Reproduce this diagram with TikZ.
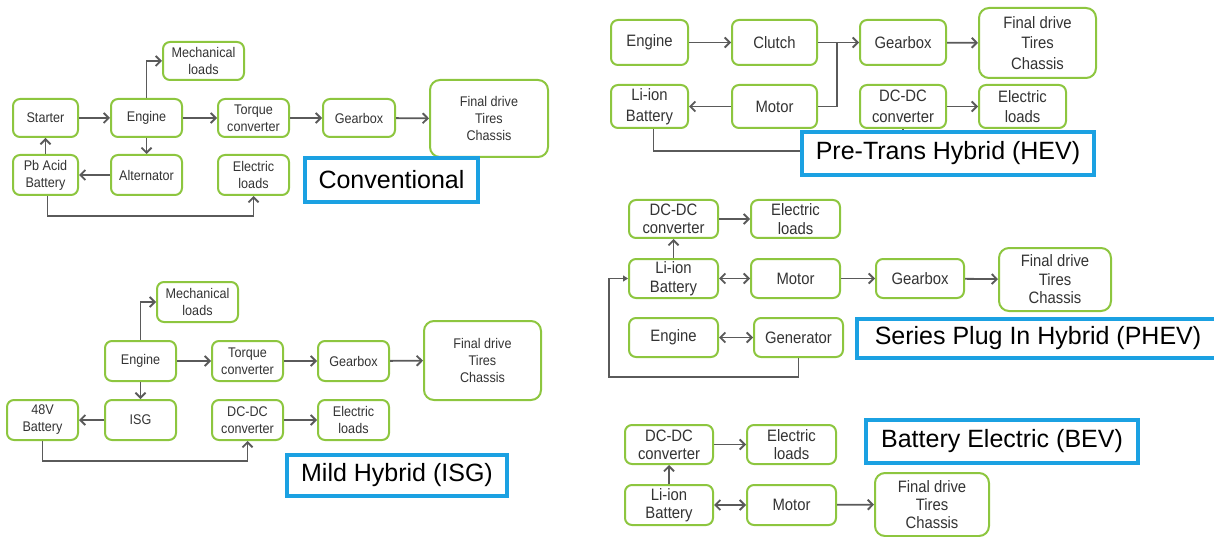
\documentclass[tikz,border=0pt]{standalone}
\usepackage{fontspec}
\setmainfont{Liberation Sans}[FakeStretch=0.9]
\newfontfamily\tagfont{Liberation Sans}
\usetikzlibrary{arrows.meta}
\definecolor{boxgreen}{HTML}{8DC63F}
\definecolor{tagblue}{HTML}{1BA1E2}
\definecolor{linegray}{HTML}{5A5A5A}
\definecolor{txtgray}{HTML}{333333}
\tikzset{
  blk/.style={draw=boxgreen, line width=2pt, rounded corners=7pt, fill=white, align=center, inner sep=0pt, text=txtgray},
  sz/.style n args={2}{minimum width=#1, minimum height=#2},
  tag/.style={draw=tagblue, line width=3.4pt, fill=white, inner sep=0pt, font=\tagfont\fontsize{25}{28}\selectfont},
  link/.style={draw=linegray, line width=1.8pt},
  arr/.style={link, -{Straight Barb[length=5pt,width=10pt]}},
  dbl/.style={link, {Straight Barb[length=5pt,width=10pt]}-{Straight Barb[length=5pt,width=10pt]}},
}
\begin{document}
\begin{tikzpicture}[x=1pt,y=-1pt]
\useasboundingbox (0,0) rectangle (1214,537);

% conventional
\begin{scope}[font=\fontsize{14}{17}\selectfont]
\node[blk, sz={81}{38}] (c-mech) at (203.5,61) {Mechanical\\loads};
\node[blk, sz={65}{38}] (c-start) at (45.5,118) {Starter};
\node[blk, sz={71}{38}] (c-eng) at (146.5,118) {Engine};
\node[blk, sz={71}{38}] (c-tc) at (253.5,118) {Torque\\converter};
\node[blk, sz={72}{38}] (c-gear) at (359,118) {Gearbox};
\node[blk, sz={118}{77}, rounded corners=10pt] (c-final) at (489,118.5) {Final drive\\Tires\\Chassis};
\node[blk, sz={65}{40}] (c-bat) at (45.5,175) {Pb Acid\\Battery};
\node[blk, sz={71}{40}] (c-alt) at (146.5,175) {Alternator};
\node[blk, sz={71}{40}] (c-eload) at (253.5,175) {Electric\\loads};
\end{scope}

\draw[arr] (c-start) -- (c-eng);
\draw[arr] (c-eng) -- (c-tc);
\draw[arr] (c-tc) -- (c-gear);
\draw[arr] (c-gear) -- (c-final);
\draw[arr] (c-eng.north) |- (c-mech.west);
\draw[arr] (c-eng) -- (c-alt);
\draw[arr] (c-alt) -- (c-bat);
\draw[arr] (c-bat) -- (c-start);
\draw[arr] ([xshift=2]c-bat.south) -- ++(0,20) -| (c-eload.south);

% mild hybrid
\begin{scope}[font=\fontsize{14}{17}\selectfont]
\node[blk, sz={81}{40}] (m-mech) at (197.5,302) {Mechanical\\loads};
\node[blk, sz={71}{40}] (m-eng) at (140.5,361) {Engine};
\node[blk, sz={71}{40}] (m-tc) at (247.5,361) {Torque\\converter};
\node[blk, sz={71}{40}] (m-gear) at (353.5,361) {Gearbox};
\node[blk, sz={117}{79}, rounded corners=10pt] (m-final) at (482.5,360.5) {Final drive\\Tires\\Chassis};
\node[blk, sz={71}{40}] (m-bat) at (42.5,420) {48V\\Battery};
\node[blk, sz={71}{40}] (m-isg) at (140.5,420) {ISG};
\node[blk, sz={71}{40}] (m-dcdc) at (247.5,420) {DC-DC\\converter};
\node[blk, sz={71}{40}] (m-eload) at (353.5,420) {Electric\\loads};
\end{scope}

\draw[arr] (m-eng) -- (m-tc);
\draw[arr] (m-tc) -- (m-gear);
\draw[arr] (m-gear) -- (m-final);
\draw[arr] (m-eng.north) |- (m-mech.west);
\draw[arr] (m-eng) -- (m-isg);
\draw[arr] (m-isg) -- (m-bat);
\draw[arr] (m-bat.south) -- ++(0,20) -| (m-dcdc.south);
\draw[arr] (m-dcdc) -- (m-eload);

% pre-trans hybrid
\begin{scope}[font=\fontsize{16.5}{20.5}\selectfont]
\node[blk, sz={77}{45}] (p-eng) at (649.5,42.5) {Engine};
\node[blk, sz={85}{45}] (p-clutch) at (774.5,42.5) {Clutch};
\node[blk, sz={86}{45}] (p-gear) at (903,42.5) {Gearbox};
\node[blk, sz={117}{70}, rounded corners=10pt] (p-final) at (1037.5,43) {Final drive\\Tires\\Chassis};
\node[blk, sz={77}{43}] (p-bat) at (649.5,106.5) {Li-ion\\Battery};
\node[blk, sz={85}{43}] (p-mot) at (774.5,106.5) {Motor};
\node[blk, sz={86}{43}] (p-dcdc) at (903,106.5) {DC-DC\\converter};
\node[blk, sz={87}{43}] (p-eload) at (1022.5,106.5) {Electric\\loads};
\end{scope}
\coordinate (p-join) at (837,42.5);

\draw[arr] (p-eng) -- (p-clutch);
\draw[arr] (p-clutch) -- (p-gear);
\draw[arr] (p-gear) -- (p-final);
\draw[link] (p-mot.east) -| (p-join);
\draw[arr] (p-mot) -- (p-bat);
\draw[arr] (p-dcdc) -- (p-eload);
\draw[link] ([xshift=4]p-bat.south) -- ++(0,22) -| (p-dcdc.south);

% series plug in hybrid
\begin{scope}[font=\fontsize{16.5}{18.5}\selectfont]
\node[blk, sz={89}{38}] (s-dcdc) at (673.5,219) {DC-DC\\converter};
\node[blk, sz={89}{38}] (s-eload) at (795.5,219) {Electric\\loads};
\node[blk, sz={89}{39}] (s-bat) at (673.5,278.5) {Li-ion\\Battery};
\node[blk, sz={89}{39}] (s-mot) at (795.5,278.5) {Motor};
\node[blk, sz={88}{39}] (s-gear) at (920,278.5) {Gearbox};
\node[blk, sz={112}{63}, rounded corners=10pt] (s-final) at (1055,279.5) {Final drive\\Tires\\Chassis};
\node[blk, sz={89}{39}] (s-eng) at (673.5,337.5) {Engine};
\node[blk, sz={89}{39}] (s-gen) at (798.5,337.5) {Generator};
\end{scope}
\coordinate (s-loop) at (609,377);

\draw[arr] (s-dcdc) -- (s-eload);
\draw[arr] (s-bat) -- (s-dcdc);
\draw[dbl] (s-bat) -- (s-mot);
\draw[arr] (s-mot) -- (s-gear);
\draw[arr] (s-gear) -- (s-final);
\draw[dbl] (s-eng) -- (s-gen);
\draw[link, -{Triangle[length=5pt,width=6pt]}] (s-gen.south) |- (s-loop) |- (s-bat.west);

% battery electric
\begin{scope}[font=\fontsize{16.5}{18}\selectfont]
\node[blk, sz={88}{39}] (b-dcdc) at (669,444.5) {DC-DC\\converter};
\node[blk, sz={89}{39}] (b-eload) at (791.5,444.5) {Electric\\loads};
\node[blk, sz={88}{40}] (b-bat) at (669,505) {Li-ion\\Battery};
\node[blk, sz={89}{40}] (b-mot) at (791.5,505) {Motor};
\node[blk, sz={114}{63}, rounded corners=10pt] (b-final) at (932,504.5) {Final drive\\Tires\\Chassis};
\end{scope}

\draw[arr] (b-dcdc) -- (b-eload);
\draw[arr] (b-bat) -- (b-dcdc);
\draw[dbl] (b-bat) -- (b-mot);
\draw[arr] (b-mot) -- (b-final);

% labels
\node[tag, sz={173}{44}] (t-conv) at (391.5,180) {Conventional};
\node[tag, sz={220}{41}] (t-mild) at (397,475.5) {Mild Hybrid (ISG)};
\node[tag, sz={292}{43}] (t-hev) at (948,153.5) {Pre-Trans Hybrid (HEV)};
\node[tag, sz={362}{39}] (t-phev) at (1038,338.5) {Series Plug In Hybrid (PHEV)};
\node[tag, sz={272}{43}] (t-bev) at (1002,441.5) {Battery Electric (BEV)};
\end{tikzpicture}
\end{document}
